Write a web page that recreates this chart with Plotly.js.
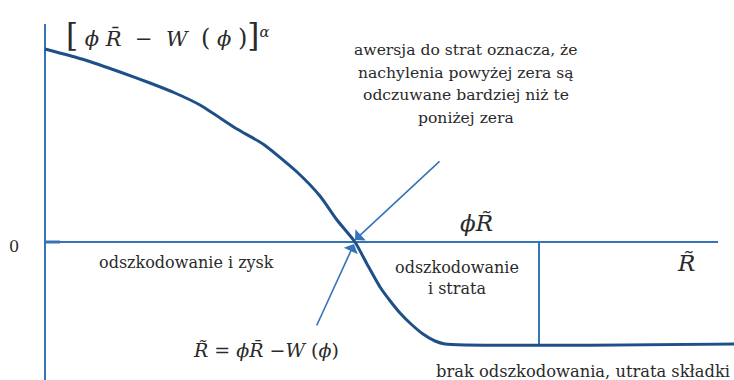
<!DOCTYPE html>
<html>
<head>
<meta charset="utf-8">
<script src="https://cdn.plot.ly/plotly-3.0.1.min.js"></script>
<style>
html,body{margin:0;padding:0;background:#fff;}
#chart{width:734px;height:380px;}
</style>
</head>
<body>
<div id="chart"></div>
<script>
// Utility curve of the insured: [phi*Rbar - W(phi)]^alpha against the outcome R~
const curveX = [0, 40, 75, 105, 130, 155, 192, 218, 252, 275, 292, 310, 322, 335, 346, 355, 366, 378, 390, 400, 689];
const curveY = [193, 182, 170, 159, 149, 137, 113, 98, 70, 46, 22, 0, -22, -45, -60, -71, -82, -92, -99, -102, -102];

// Axes of the diagram
const vAxisX = [0, 0];
const vAxisY = [218, -138];
const hAxisX = [0, 673];
const hAxisY = [0, 0];
const zeroTickX = [0, 15];
const zeroTickY = [0, 0];

// Boundary between "odszkodowanie i strata" and the flat segment
const splitX = [494, 494];
const splitY = [0, -102];

// Arrows pointing at the break-even point (tail -> head)
const arrowTailX = [396, 271];
const arrowTailY = [82, -85];
const arrowHeadX = [310, 309];
const arrowHeadY = [2, -2];

// Note on loss aversion, one entry per line
const noteLines = ['awersja do strat oznacza, że', 'nachylenia powyżej zera są', 'odczuwane bardziej niż te', 'poniżej zera'];

const lineBlue = '#3674b8';
const curveBlue = '#1f4f88';
const ink = '#2a2a2a';
const serif = 'DejaVu Serif';
const sp = '\u00A0';

const traces = [
  {x: vAxisX, y: vAxisY, mode: 'lines', line: {color: lineBlue, width: 2}, hoverinfo: 'skip'},
  {x: hAxisX, y: hAxisY, mode: 'lines', line: {color: lineBlue, width: 2}, hoverinfo: 'skip'},
  {x: zeroTickX, y: zeroTickY, mode: 'lines', line: {color: lineBlue, width: 3}, hoverinfo: 'skip'},
  {x: splitX, y: splitY, mode: 'lines', line: {color: lineBlue, width: 2}, hoverinfo: 'skip'},
  {x: curveX, y: curveY, mode: 'lines', line: {color: curveBlue, width: 3, shape: 'spline', smoothing: 0.6}, hoverinfo: 'skip'}
];

const annotations = [];
for (let i = 0; i < arrowHeadX.length; i++) {
  annotations.push({
    x: arrowHeadX[i], y: arrowHeadY[i], xref: 'x', yref: 'y',
    ax: arrowTailX[i], ay: arrowTailY[i], axref: 'x', ayref: 'y',
    text: '', showarrow: true, arrowhead: 1, arrowsize: 1.6, arrowwidth: 1.6,
    arrowcolor: lineBlue, standoff: 0
  });
}

function label(text, x, y, size, extra) {
  return Object.assign({
    text: text, x: x, y: y, xref: 'x', yref: 'y', showarrow: false,
    font: {family: serif, size: size, color: ink}, xanchor: 'center', yanchor: 'middle'
  }, extra || {});
}

noteLines.forEach(function (line, i) {
  annotations.push(label(line, 421, 192 - i * 22.5, 15.6));
});

const big = function (s, px) { return '<span style="font-size:' + px + 'px">' + s + '</span>'; };
const title = big('[', 31) + sp + '<i>ϕ</i>' + sp + '<i>R̄</i>' + sp + sp + '−' + sp + sp + '<i>W</i>' + sp + sp +
  big('(', 24) + sp + '<i>ϕ</i>' + sp + big(')', 24) + big(']', 31) + '<sup><i>α</i></sup>';

annotations.push(
  label(title, 19, 207, 21, {xanchor: 'left'}),
  label('0', -31, -4, 16),
  label('odszkodowanie i zysk', 141, -20, 16),
  label('odszkodowanie<br>i strata', 412, -36, 16),
  label('<i>ϕR̃</i>', 431, 19, 23),
  label('<i>R̃</i>', 641, -21, 23),
  label('<i>R̃</i> = <i>ϕR̄</i> −<i>W</i> (<i>ϕ</i>)', 221, -108, 19),
  label('brak odszkodowania, utrata składki', 389, -129, 16.3, {xanchor: 'left'})
);

const layout = {
  width: 734, height: 380,
  margin: {l: 0, r: 0, t: 0, b: 0},
  paper_bgcolor: '#ffffff', plot_bgcolor: '#ffffff',
  font: {family: serif, color: ink},
  showlegend: false,
  xaxis: {range: [-45, 689], visible: false, fixedrange: true},
  yaxis: {range: [-138, 242], visible: false, fixedrange: true},
  annotations: annotations
};

Plotly.newPlot('chart', traces, layout, {staticPlot: true, displayModeBar: false});
</script>
</body>
</html>
